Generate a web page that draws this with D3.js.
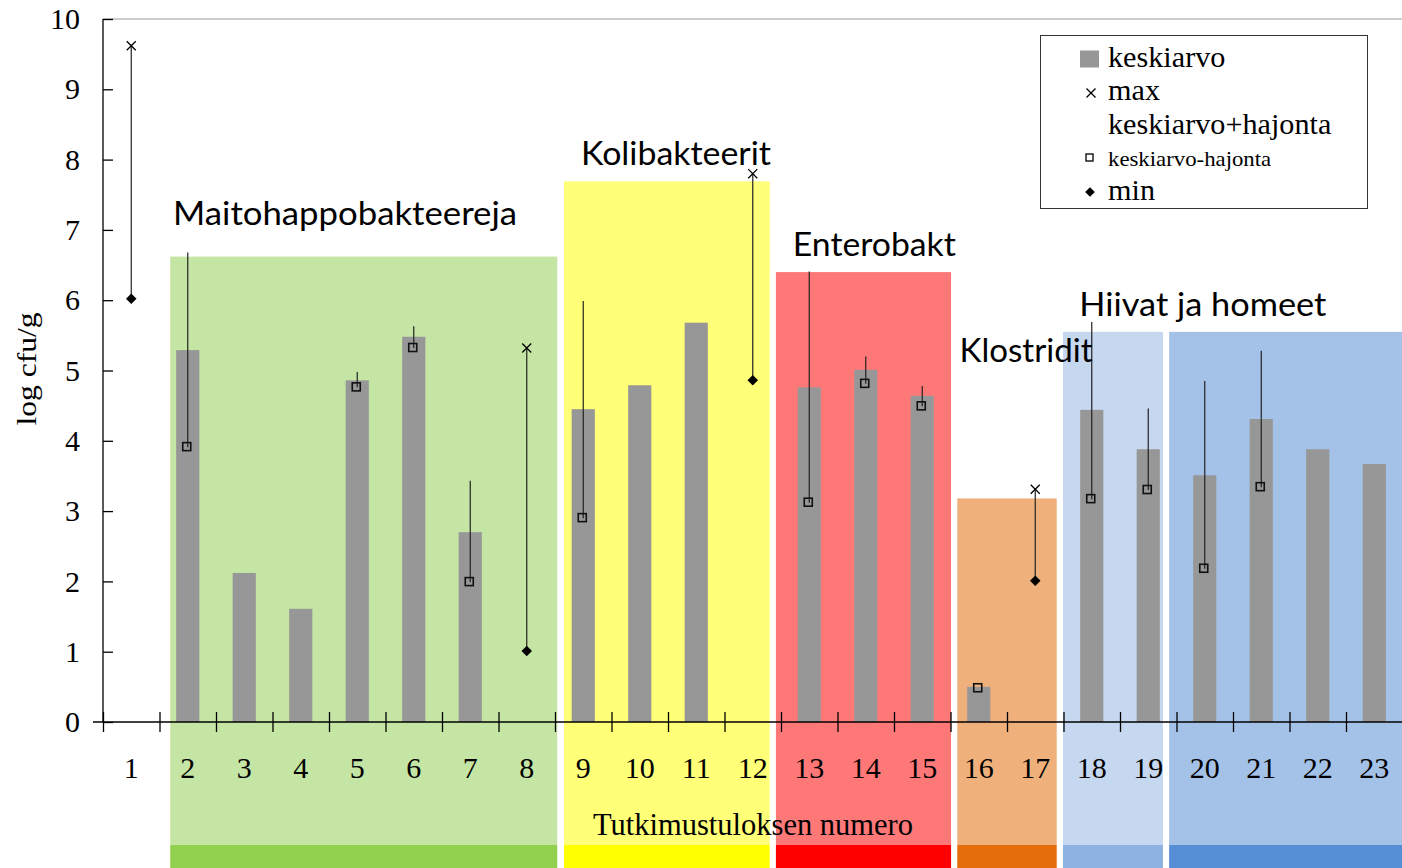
<!DOCTYPE html>
<html>
<head>
<meta charset="utf-8">
<script src="https://cdn.jsdelivr.net/npm/d3@7"></script>
<style>
  body { margin: 0; background: #fff; }
  svg { display: block; }
</style>
</head>
<body>
<div id="chart"></div>
<script>
// data
var categories = d3.range(1, 24).map(String);
var keskiarvo = [null, 5.29, 2.12, 1.61, 4.86, 5.48, 2.70, null, 4.45, 4.79, 5.68, null, 4.76, 5.01, 4.64, 0.50, null, 4.44, 3.88, 3.51, 4.31, 3.88, 3.67];
var maxVals   = [9.62, null, null, null, null, null, null, 5.32, null, null, null, 7.80, null, null, null, null, 3.31, null, null, null, null, null, null];
var plusSd    = [null, 6.68, null, null, 4.98, 5.63, 3.43, null, 5.99, null, null, null, 6.41, 5.20, 4.78, null, null, 5.69, 4.46, 4.85, 5.28, null, null];
var minusSd   = [null, 3.91, null, null, 4.76, 5.32, 1.99, null, 2.90, null, null, null, 3.12, 4.81, 4.49, 0.48, null, 3.17, 3.30, 2.18, 3.34, null, null];
var minVals   = [6.02, null, null, null, null, null, null, 1.01, null, null, null, 4.86, null, null, null, null, 2.01, null, null, null, null, null, null];
var yTicks = d3.range(0, 11);

// the coloured group boxes (x in category units, top in log cfu/g)
var groupNames = ["Maitohappobakteereja", "Kolibakteerit", "Enterobakt", "Klostridit", "", "Hiivat ja homeet"];
var groupStart = [1.19, 8.16, 11.91, 15.12, 16.99, 18.87];
var groupEnd   = [8.04, 11.80, 15.01, 16.88, 18.76, 23.0];
var groupTop   = [6.62, 7.69, 6.40, 3.18, 5.55, 5.55];
var groupLight = ["#c5e5a5", "#ffff78", "#ff7878", "#f0b07b", "#c5d8f0", "#a4c2e8"];
var groupDark  = ["#92d050", "#ffff00", "#ff0000", "#e46c0a", "#8db3e2", "#558ed5"];
// label anchors (x in category units, y baseline in log cfu/g)
var labelX = [1.24, 8.46, 12.21, 15.16, 17.28];
var labelY = [7.07, 7.92, 6.63, 5.12, 5.78];
var labelW = [344, 190, 163, 133, 247];

var W = 1402, H = 868;
var mLeft = 103, mRight = 1402.5, mTop = 19, mBottom = 722;

var svg = d3.select("#chart").append("svg")
  .attr("width", W)
  .attr("height", H);

var xLin = d3.scaleLinear().domain([0, 23]).range([mLeft, mRight]);
var x = d3.scaleBand().domain(categories).range([mLeft, mRight])
  .paddingInner(0.59).paddingOuter(0.295);
var y = d3.scaleLinear().domain([0, 10]).range([mBottom, mTop]);

// background boxes
var groups = groupStart.map(function (s, i) {
  return { start: s, end: groupEnd[i], top: groupTop[i], light: groupLight[i], dark: groupDark[i] };
});
svg.selectAll("rect.bg").data(groups).enter().append("rect")
  .attr("class", "bg")
  .attr("x", function (d) { return xLin(d.start); })
  .attr("width", function (d) { return xLin(d.end) - xLin(d.start); })
  .attr("y", function (d) { return y(d.top); })
  .attr("height", function (d) { return 845 - y(d.top); })
  .attr("fill", function (d) { return d.light; });
svg.selectAll("rect.strip").data(groups).enter().append("rect")
  .attr("class", "strip")
  .attr("x", function (d) { return xLin(d.start); })
  .attr("width", function (d) { return xLin(d.end) - xLin(d.start); })
  .attr("y", 845)
  .attr("height", H - 845)
  .attr("fill", function (d) { return d.dark; });

// top border line
svg.append("line")
  .attr("x1", mLeft).attr("x2", W)
  .attr("y1", y(10)).attr("y2", y(10))
  .attr("stroke", "#999").attr("stroke-width", 1);

// bars
var barData = categories.map(function (c, i) { return { c: c, v: keskiarvo[i] }; })
  .filter(function (d) { return d.v != null; });
svg.selectAll("rect.bar").data(barData).enter().append("rect")
  .attr("class", "bar")
  .attr("x", function (d) { return x(d.c); })
  .attr("width", x.bandwidth())
  .attr("y", function (d) { return y(d.v); })
  .attr("height", function (d) { return y(0) - y(d.v); })
  .attr("fill", "#979797");

// high-low lines across the line series
var hl = categories.map(function (c, i) {
  var vals = [maxVals[i], plusSd[i], minusSd[i], minVals[i]].filter(function (v) { return v != null; });
  return { c: c, lo: d3.min(vals), hi: d3.max(vals), n: vals.length };
}).filter(function (d) { return d.n > 1; });
svg.selectAll("line.hl").data(hl).enter().append("line")
  .attr("x1", function (d) { return x(d.c) + x.bandwidth() / 2; })
  .attr("x2", function (d) { return x(d.c) + x.bandwidth() / 2; })
  .attr("y1", function (d) { return y(d.lo); })
  .attr("y2", function (d) { return y(d.hi); })
  .attr("stroke", "#222").attr("stroke-width", 1.2);

function pts(arr) {
  return categories.map(function (c, i) { return { c: c, v: arr[i] }; })
    .filter(function (d) { return d.v != null; });
}
function cx(d) { return x(d.c) + x.bandwidth() / 2; }

// keskiarvo-hajonta squares
svg.selectAll("rect.sq").data(pts(minusSd)).enter().append("rect")
  .attr("x", function (d) { return cx(d) - 5; })
  .attr("y", function (d) { return y(d.v) - 4.5; })
  .attr("width", 8).attr("height", 8)
  .attr("fill", "none").attr("stroke", "#111").attr("stroke-width", 1.6);

// min diamonds
var diamond = d3.symbol().type(d3.symbolDiamond2).size(70);
svg.selectAll("path.min").data(pts(minVals)).enter().append("path")
  .attr("d", diamond)
  .attr("transform", function (d) { return "translate(" + cx(d) + "," + y(d.v) + ")"; })
  .attr("fill", "#000");

// max crosses
var cross = d3.symbol().type(d3.symbolX).size(55);
svg.selectAll("path.max").data(pts(maxVals)).enter().append("path")
  .attr("d", cross)
  .attr("transform", function (d) { return "translate(" + cx(d) + "," + y(d.v) + ")"; })
  .attr("fill", "none").attr("stroke", "#000").attr("stroke-width", 1.3);

// axes
var yAxis = svg.append("g")
  .attr("transform", "translate(" + mLeft + ",0)")
  .call(d3.axisLeft(y).tickValues(yTicks).tickSize(10).tickPadding(13).tickSizeOuter(0));
yAxis.selectAll(".tick line").attr("x2", 10);
yAxis.select(".domain").attr("d", "M0," + y(10) + "V" + y(0));

var xAxis = svg.append("g")
  .attr("transform", "translate(0," + mBottom + ")")
  .call(d3.axisBottom(xLin).tickValues(d3.range(0, 24)).tickSize(10).tickFormat("").tickSizeOuter(0));
xAxis.selectAll(".tick line").attr("y1", -10);
xAxis.select(".domain").attr("d", "M" + (mLeft - 10) + ",0H" + W);

var xLabels = svg.append("g")
  .attr("transform", "translate(0," + mBottom + ")")
  .call(d3.axisBottom(x).tickSize(0).tickPadding(35));
xLabels.select(".domain").remove();

svg.selectAll(".tick text")
  .attr("font-family", "Liberation Serif, Times New Roman, serif")
  .attr("font-size", 30)
  .attr("fill", "#000");
svg.selectAll(".domain, .tick line").attr("stroke", "#000").attr("stroke-width", 1.3);

// axis titles
svg.append("text")
  .attr("x", 753).attr("y", 835)
  .attr("text-anchor", "middle")
  .attr("font-family", "Liberation Serif, Times New Roman, serif")
  .attr("font-size", 30.5)
  .text("Tutkimustuloksen numero");

svg.append("text")
  .attr("transform", "translate(36,369) rotate(-90)")
  .attr("text-anchor", "middle")
  .attr("font-family", "Liberation Serif, Times New Roman, serif")
  .attr("font-size", 28)
  .attr("textLength", 113)
  .attr("lengthAdjust", "spacingAndGlyphs")
  .text("log cfu/g");

// group labels
groupNames.filter(function (n) { return n; }).forEach(function (n, i) {
  svg.append("text")
    .attr("x", xLin(labelX[i]))
    .attr("y", y(labelY[i]))
    .attr("font-family", "Lato, Carlito, Calibri, sans-serif")
    .attr("font-size", 33)
    .attr("textLength", labelW[i])
    .attr("lengthAdjust", "spacingAndGlyphs")
    .text(n);
});

// legend
var lg = svg.append("g");
lg.append("rect")
  .attr("x", 1040.5).attr("y", 35.5)
  .attr("width", 327).attr("height", 173)
  .attr("fill", "#fff").attr("stroke", "#333").attr("stroke-width", 1);

var legendItems = [
  { name: "keskiarvo", base: 67, size: 28.5, mark: "bar", my: 59 },
  { name: "max", base: 100, size: 28.5, mark: "x", my: 93 },
  { name: "keskiarvo+hajonta", base: 134, size: 28.5, mark: "none", my: 127 },
  { name: "keskiarvo-hajonta", base: 166, size: 21.5, mark: "sq", my: 158 },
  { name: "min", base: 200, size: 28.5, mark: "min", my: 192 }
];
legendItems.forEach(function (it) {
  if (it.mark === "bar") {
    lg.append("rect").attr("x", 1080).attr("y", it.my - 8.5).attr("width", 19).attr("height", 17).attr("fill", "#979797");
  } else if (it.mark === "x") {
    lg.append("path").attr("d", cross).attr("transform", "translate(1091," + it.my + ")")
      .attr("fill", "none").attr("stroke", "#000").attr("stroke-width", 1.3);
  } else if (it.mark === "sq") {
    lg.append("rect").attr("x", 1086).attr("y", it.my - 4).attr("width", 7).attr("height", 7)
      .attr("fill", "none").attr("stroke", "#111").attr("stroke-width", 1.4);
  } else if (it.mark === "min") {
    lg.append("path").attr("d", d3.symbol().type(d3.symbolDiamond2).size(60))
      .attr("transform", "translate(1090," + it.my + ")").attr("fill", "#000");
  }
  lg.append("text")
    .attr("transform", "translate(1108," + it.base + ") scale(1.06,1)")
    .attr("font-family", "Liberation Serif, Times New Roman, serif")
    .attr("font-size", it.size)
    .text(it.name);
});
</script>
</body>
</html>
